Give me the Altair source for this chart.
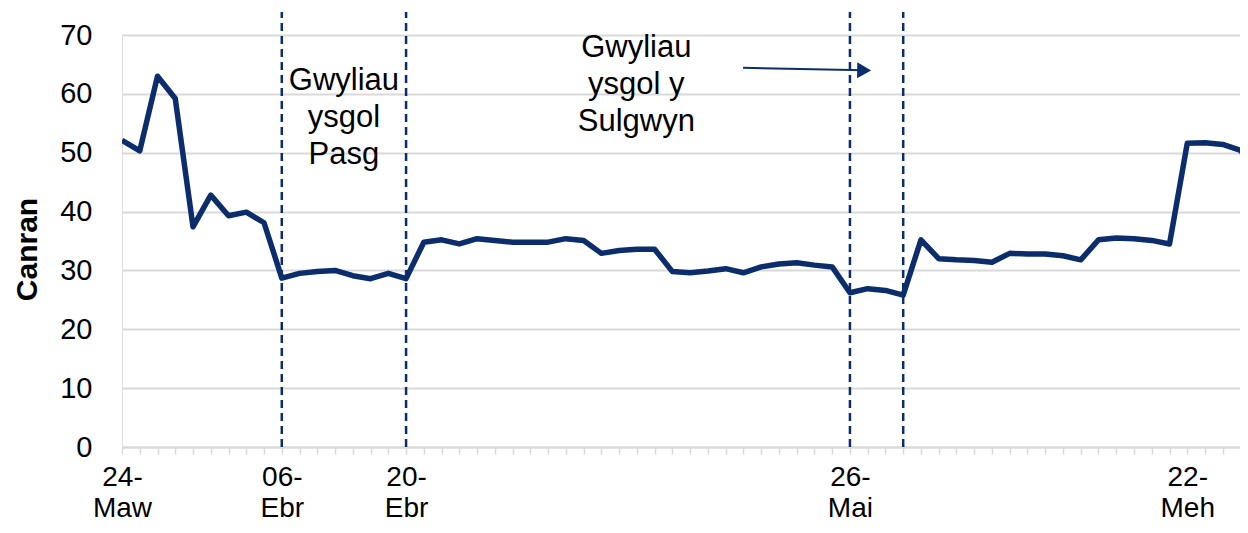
import altair as alt
import pandas as pd

# ---- data ----
values = [52.1, 50.3, 63.0, 59.2, 37.4, 42.8, 39.3, 39.9, 38.1, 28.7,
          29.5, 29.8, 30.0, 29.1, 28.6, 29.5, 28.6,
          34.8, 35.2, 34.5, 35.4, 35.1, 34.8, 34.8, 34.8, 35.4, 35.1,
          32.9, 33.4, 33.6, 33.6, 29.8, 29.6, 29.9, 30.3, 29.6, 30.6,
          31.1, 31.3, 30.9, 30.6, 26.2, 26.9, 26.6, 25.8, 35.2, 32.0, 31.8,
          31.7, 31.4, 32.9, 32.8, 32.8, 32.5, 31.8, 35.2, 35.5, 35.4, 35.1, 34.5,
          51.6, 51.7, 51.4, 50.4, 45.8]
day_index = list(range(len(values)))

tick_positions = [0, 9, 16, 41, 60]
tick_labels = ["24-\nMaw", "06-\nEbr", "20-\nEbr", "26-\nMai", "22-\nMeh"]

holiday_lines = [9, 16, 41, 44]

annot_text = ["Gwyliau\nysgol\nPasg", "Gwyliau\nysgol y\nSulgwyn"]
annot_x = [12.5, 28.97]
annot_y = [64.7, 70.3]

arrow_x = [34.98]
arrow_x2 = [41.8]
arrow_y = [64.44]
arrow_y2 = [64.0]

NAVY = "#0c2d6b"
GRID = "#d9d9d9"
FONT = "Liberation Sans"

df = pd.DataFrame({"i": day_index, "v": values})
rules_df = pd.DataFrame({"i": holiday_lines, "lo": [0] * len(holiday_lines), "hi": [73.9] * len(holiday_lines)})
ann_df = pd.DataFrame({"x": annot_x, "y": annot_y, "t": annot_text})
arr_df = pd.DataFrame({"x": arrow_x, "x2": arrow_x2, "y": arrow_y, "y2": arrow_y2})

# label expression built from the tick arrays
expr = "''"
for p, lab in reversed(list(zip(tick_positions, tick_labels))):
    parts = lab.split("\n")
    arr = "[" + ",".join("'" + s + "'" for s in parts) + "]"
    expr = f"datum.value == {p} ? {arr} : ({expr})"

xscale = alt.Scale(domain=[0, 62.97], nice=False, zero=False)
yscale = alt.Scale(domain=[0, 70], nice=False)

xaxis = alt.Axis(values=list(range(63)), tickCount=200, labelExpr=expr, labelOverlap=False,
                 grid=False, ticks=True, tickSize=7, tickColor=GRID, tickWidth=1.5,
                 domainColor=GRID, domainWidth=2, labelFontSize=28, labelFont=FONT,
                 labelColor="#000000", labelLineHeight=31, labelPadding=9,
                 labelBaseline="top", labelAlign="center", labelFlush=False, title=None)
yaxis = alt.Axis(values=list(range(0, 71, 10)), grid=True, gridColor=GRID, gridWidth=2,
                 ticks=False, domain=False, labelFontSize=29, labelFont=FONT,
                 labelColor="#000000", labelPadding=30,
                 title="Canran", titleFont=FONT, titleFontSize=30, titleFontWeight="bold",
                 titleColor="#000000", titleAngle=270, titleX=-95, titleY=214,
                 titleAlign="center", titleBaseline="middle")

line = alt.Chart(df).mark_line(color=NAVY, strokeWidth=5.5, clip=True, strokeJoin="round").encode(
    x=alt.X("i:Q", scale=xscale, axis=xaxis),
    y=alt.Y("v:Q", scale=yscale, axis=yaxis),
)

rules = alt.Chart(rules_df).mark_rule(color=NAVY, strokeWidth=2.5, strokeDash=[8, 5]).encode(
    x=alt.X("i:Q", scale=xscale),
    y=alt.Y("lo:Q", scale=yscale),
    y2="hi:Q",
)

texts = alt.Chart(ann_df).mark_text(fontSize=31, font=FONT, color="#000000", align="center",
                                    baseline="top", lineBreak="\n", lineHeight=37).encode(
    x=alt.X("x:Q", scale=xscale),
    y=alt.Y("y:Q", scale=yscale),
    text="t:N",
)

arrow_line = alt.Chart(arr_df).mark_rule(color=NAVY, strokeWidth=2).encode(
    x=alt.X("x:Q", scale=xscale), x2="x2:Q",
    y=alt.Y("y:Q", scale=yscale), y2="y2:Q",
)
arrow_head = alt.Chart(arr_df).mark_point(shape="triangle-right", filled=True, color=NAVY,
                                          size=260, opacity=1, angle=1).encode(
    x=alt.X("x2:Q", scale=xscale),
    y=alt.Y("y2:Q", scale=yscale),
)

chart = alt.layer(rules, line, texts, arrow_line, arrow_head).properties(
    width=1118, height=412,
    padding={"left": 114, "top": 27, "right": 0, "bottom": 78},
    autosize=alt.AutoSizeParams(type="none"),
).configure_view(stroke=None).configure(background="white")

chart.save("out.html", embed_options={"renderer": "svg", "actions": False})
